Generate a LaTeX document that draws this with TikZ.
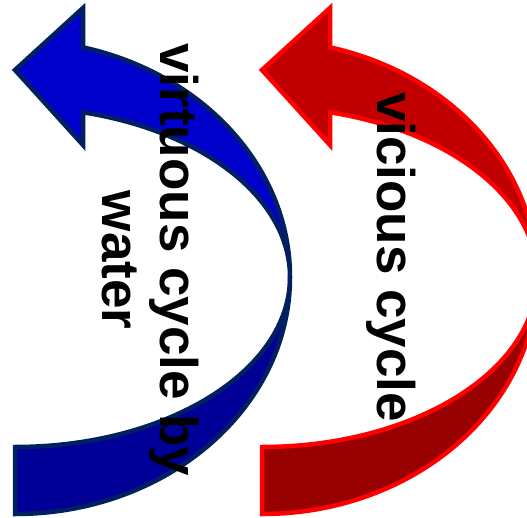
\documentclass[tikz,border=0pt]{standalone}
\usepackage{fontspec}
\setmainfont{Liberation Sans}
\definecolor{blueA}{HTML}{0000CC}
\definecolor{blueB}{HTML}{000099}
\definecolor{blueline}{HTML}{002060}
\definecolor{redA}{HTML}{C00000}
\definecolor{redB}{HTML}{990000}
\definecolor{redline}{HTML}{FF0000}
\begin{document}
\begin{tikzpicture}[x=1pt,y=1pt,
    cyclelabel/.style={rotate=-90, align=center, inner sep=0pt,
      font=\bfseries\fontsize{53}{58}\selectfont}]
  \clip (0,0) rectangle (527,517);
  % raios das bordas externa e interna
  \def\rx{275}
  \def\rO{237}
  \def\rI{170}
  \def\ang{75.68}
  \foreach \dx/\lite/\dark/\rim in {0/blueA/blueB/blueline, 247/redA/redB/redline}{
    \begin{scope}[xshift=\dx pt]
      % metade de baixo (mais escura)
      \draw[fill=\dark, draw=\rim, line width=4.5pt]
        (15,3) arc[start angle=270, end angle=360, x radius=\rx, y radius=\rO]
        arc[start angle=0, end angle=-90, x radius=\rx, y radius=\rI] -- cycle;
      % metade de cima com a ponta
      \draw[fill=\lite, draw=\rim, line width=4.5pt]
        (290,240) arc[start angle=0, end angle=\ang, x radius=\rx, y radius=\rO]
        -- (83,509) -- (15,447) -- (83,372) -- (83,404.7)
        arc[start angle=\ang, end angle=0, x radius=\rx, y radius=\rI] -- cycle;
    \end{scope}
  }
  % textos
  \node[cyclelabel] (virtuous) at (150,257) {virtuous cycle by\\water};
  \node[cyclelabel] (vicious) at (391.5,260) {vicious cycle};
\end{tikzpicture}
\end{document}
